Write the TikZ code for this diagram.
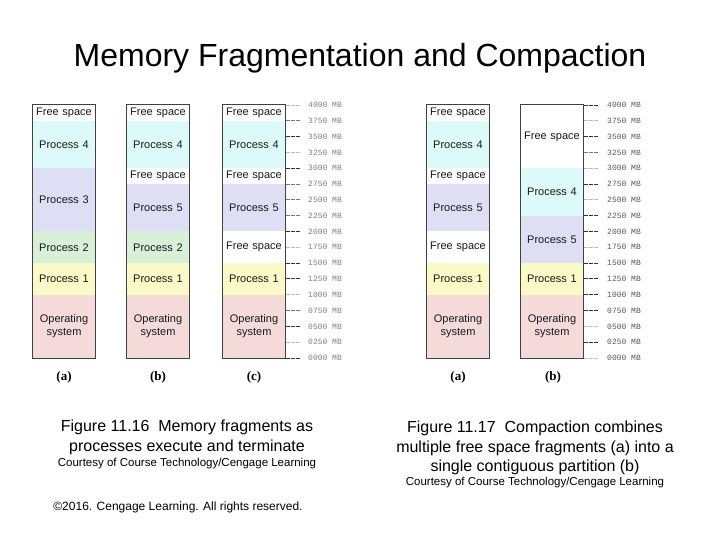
\documentclass[tikz,border=0pt]{standalone}
\usepackage{fontspec}
\setmainfont{Liberation Sans}
\newfontfamily\labserif{Liberation Serif}
\newfontfamily\labmono{Liberation Mono}
\definecolor{cFree}{HTML}{FFFFFF}
\definecolor{cCyan}{HTML}{DCFAFA}
\definecolor{cLav}{HTML}{DEDEF5}
\definecolor{cGreen}{HTML}{D7F0D7}
\definecolor{cYel}{HTML}{FAFAC8}
\definecolor{cPink}{HTML}{F5DADA}
\definecolor{tL}{HTML}{BBBBBB}
\definecolor{tM}{HTML}{777777}
\definecolor{tD}{HTML}{333333}
\newcommand\memblk[6]{\node[seg, fill=#5, minimum height={(#3-#4)*0.06325pt}] (#1) at ({#2+31},{358-(#3+#4)*0.031625}) {#6};}
\begin{document}
\begin{tikzpicture}[x=1pt,y=-1pt,
  seg/.style={draw=none, inner sep=0pt, minimum width=62pt, text width=62pt, align=center,
    font=\fontsize{11}{12.5}\selectfont, text=black!90},
  bord/.style={draw=black!75, line width=0.8pt},
  mbtick/.style={line width=1pt, dash pattern=on 3.5pt off 1.5pt},
  mblab/.style={anchor=west, inner sep=0pt, font=\labmono\fontsize{8}{9}\selectfont},
  sublab/.style={font=\labserif\bfseries\fontsize{13}{14}\selectfont},
  captxt/.style={font=\fontsize{16}{19.5}\selectfont, align=center},
  court/.style={font=\fontsize{11.5}{13}\selectfont}]
\useasboundingbox (0,0) rectangle (720,540);
\node[font=\fontsize{32}{35}\selectfont] (title) at (360,58) {Memory Fragmentation and Compaction};
% ---- Figure 11.16 column (a)
\memblk{La1}{33}{4000}{3750}{cFree}{Free space}
\memblk{La2}{33}{3750}{3000}{cCyan}{Process 4}
\memblk{La3}{33}{3000}{2000}{cLav}{Process 3}
\memblk{La4}{33}{2000}{1500}{cGreen}{Process 2}
\memblk{La5}{33}{1500}{1000}{cYel}{Process 1}
\memblk{La6}{33}{1000}{0}{cPink}{Operating\\system}
\draw[bord] (La1.north west) rectangle (La6.south east);
% column (b)
\memblk{Lb1}{127}{4000}{3750}{cFree}{Free space}
\memblk{Lb2}{127}{3750}{3000}{cCyan}{Process 4}
\memblk{Lb3}{127}{3000}{2750}{cFree}{Free space}
\memblk{Lb4}{127}{2750}{2000}{cLav}{Process 5}
\memblk{Lb5}{127}{2000}{1500}{cGreen}{Process 2}
\memblk{Lb6}{127}{1500}{1000}{cYel}{Process 1}
\memblk{Lb7}{127}{1000}{0}{cPink}{Operating\\system}
\draw[bord] (Lb1.north west) rectangle (Lb7.south east);
% column (c)
\memblk{Lc1}{223}{4000}{3750}{cFree}{Free space}
\memblk{Lc2}{223}{3750}{3000}{cCyan}{Process 4}
\memblk{Lc3}{223}{3000}{2750}{cFree}{Free space}
\memblk{Lc4}{223}{2750}{2000}{cLav}{Process 5}
\memblk{Lc5}{223}{2000}{1500}{cFree}{Free space}
\memblk{Lc6}{223}{1500}{1000}{cYel}{Process 1}
\memblk{Lc7}{223}{1000}{0}{cPink}{Operating\\system}
\draw[bord] (Lc1.north west) rectangle (Lc7.south east);
% ticks left
\foreach \m/\t/\s in {4000/4000/tL,3750/3750/tM,3500/3500/tD,3250/3250/tL,3000/3000/tD,2750/2750/tM,2500/2500/tM,2250/2250/tM,2000/2000/tD,1750/1750/tL,1500/1500/tD,1250/1250/tD,1000/1000/tL,750/0750/tM,500/0500/tD,250/0250/tL,0/0000/tD}{
  \coordinate (lt\m) at (286,{358-\m*0.06325});
  \draw[mbtick,\s] (lt\m) -- ++(15,0);
  \node[mblab,text=black!50] (ll\m) at (308,{358-\m*0.06325}) {\t\ MB};
}
\node[sublab] (La) at (64,377) {(a)};
\node[sublab] (Lb) at (158,377) {(b)};
\node[sublab] (Lc) at (254,377) {(c)};
% ---- Figure 11.17 column (a)
\memblk{Ra1}{427}{4000}{3750}{cFree}{Free space}
\memblk{Ra2}{427}{3750}{3000}{cCyan}{Process 4}
\memblk{Ra3}{427}{3000}{2750}{cFree}{Free space}
\memblk{Ra4}{427}{2750}{2000}{cLav}{Process 5}
\memblk{Ra5}{427}{2000}{1500}{cFree}{Free space}
\memblk{Ra6}{427}{1500}{1000}{cYel}{Process 1}
\memblk{Ra7}{427}{1000}{0}{cPink}{Operating\\system}
\draw[bord] (Ra1.north west) rectangle (Ra7.south east);
% column (b)
\memblk{Rb1}{521}{4000}{3000}{cFree}{Free space}
\memblk{Rb2}{521}{3000}{2250}{cCyan}{Process 4}
\memblk{Rb3}{521}{2250}{1500}{cLav}{Process 5}
\memblk{Rb4}{521}{1500}{1000}{cYel}{Process 1}
\memblk{Rb5}{521}{1000}{0}{cPink}{Operating\\system}
\draw[bord] (Rb1.north west) rectangle (Rb5.south east);
\foreach \m/\t/\s in {4000/4000/tD,3750/3750/tL,3500/3500/tD,3250/3250/tM,3000/3000/tL,2750/2750/tD,2500/2500/tL,2250/2250/tD,2000/2000/tD,1750/1750/tL,1500/1500/tD,1250/1250/tD,1000/1000/tD,750/0750/tD,500/0500/tL,250/0250/tD,0/0000/tL}{
  \coordinate (rt\m) at (584,{358-\m*0.06325});
  \draw[mbtick,\s] (rt\m) -- ++(15,0);
  \node[mblab,text=black!65] (rl\m) at (607,{358-\m*0.06325}) {\t\ MB};
}
\node[sublab] (Ra) at (458,377) {(a)};
\node[sublab] (Rb) at (553,377) {(b)};
% ---- captions
\node[captxt] (capL) at (187,437.5) {Figure 11.16~~Memory fragments as\\processes execute and terminate};
\node[court] (courtL) at (187,464) {Courtesy of Course Technology/Cengage Learning};
\node[captxt] (capR) at (535,448) {Figure 11.17~~Compaction combines\\multiple free space fragments (a) into a\\single contiguous partition (b)};
\node[court] (courtR) at (535,483) {Courtesy of Course Technology/Cengage Learning};
\node[font=\fontsize{12}{14}\selectfont] (copy) at (178,507) {\textcopyright 2016. Cengage Learning. All rights reserved.};
\end{tikzpicture}
\end{document}
